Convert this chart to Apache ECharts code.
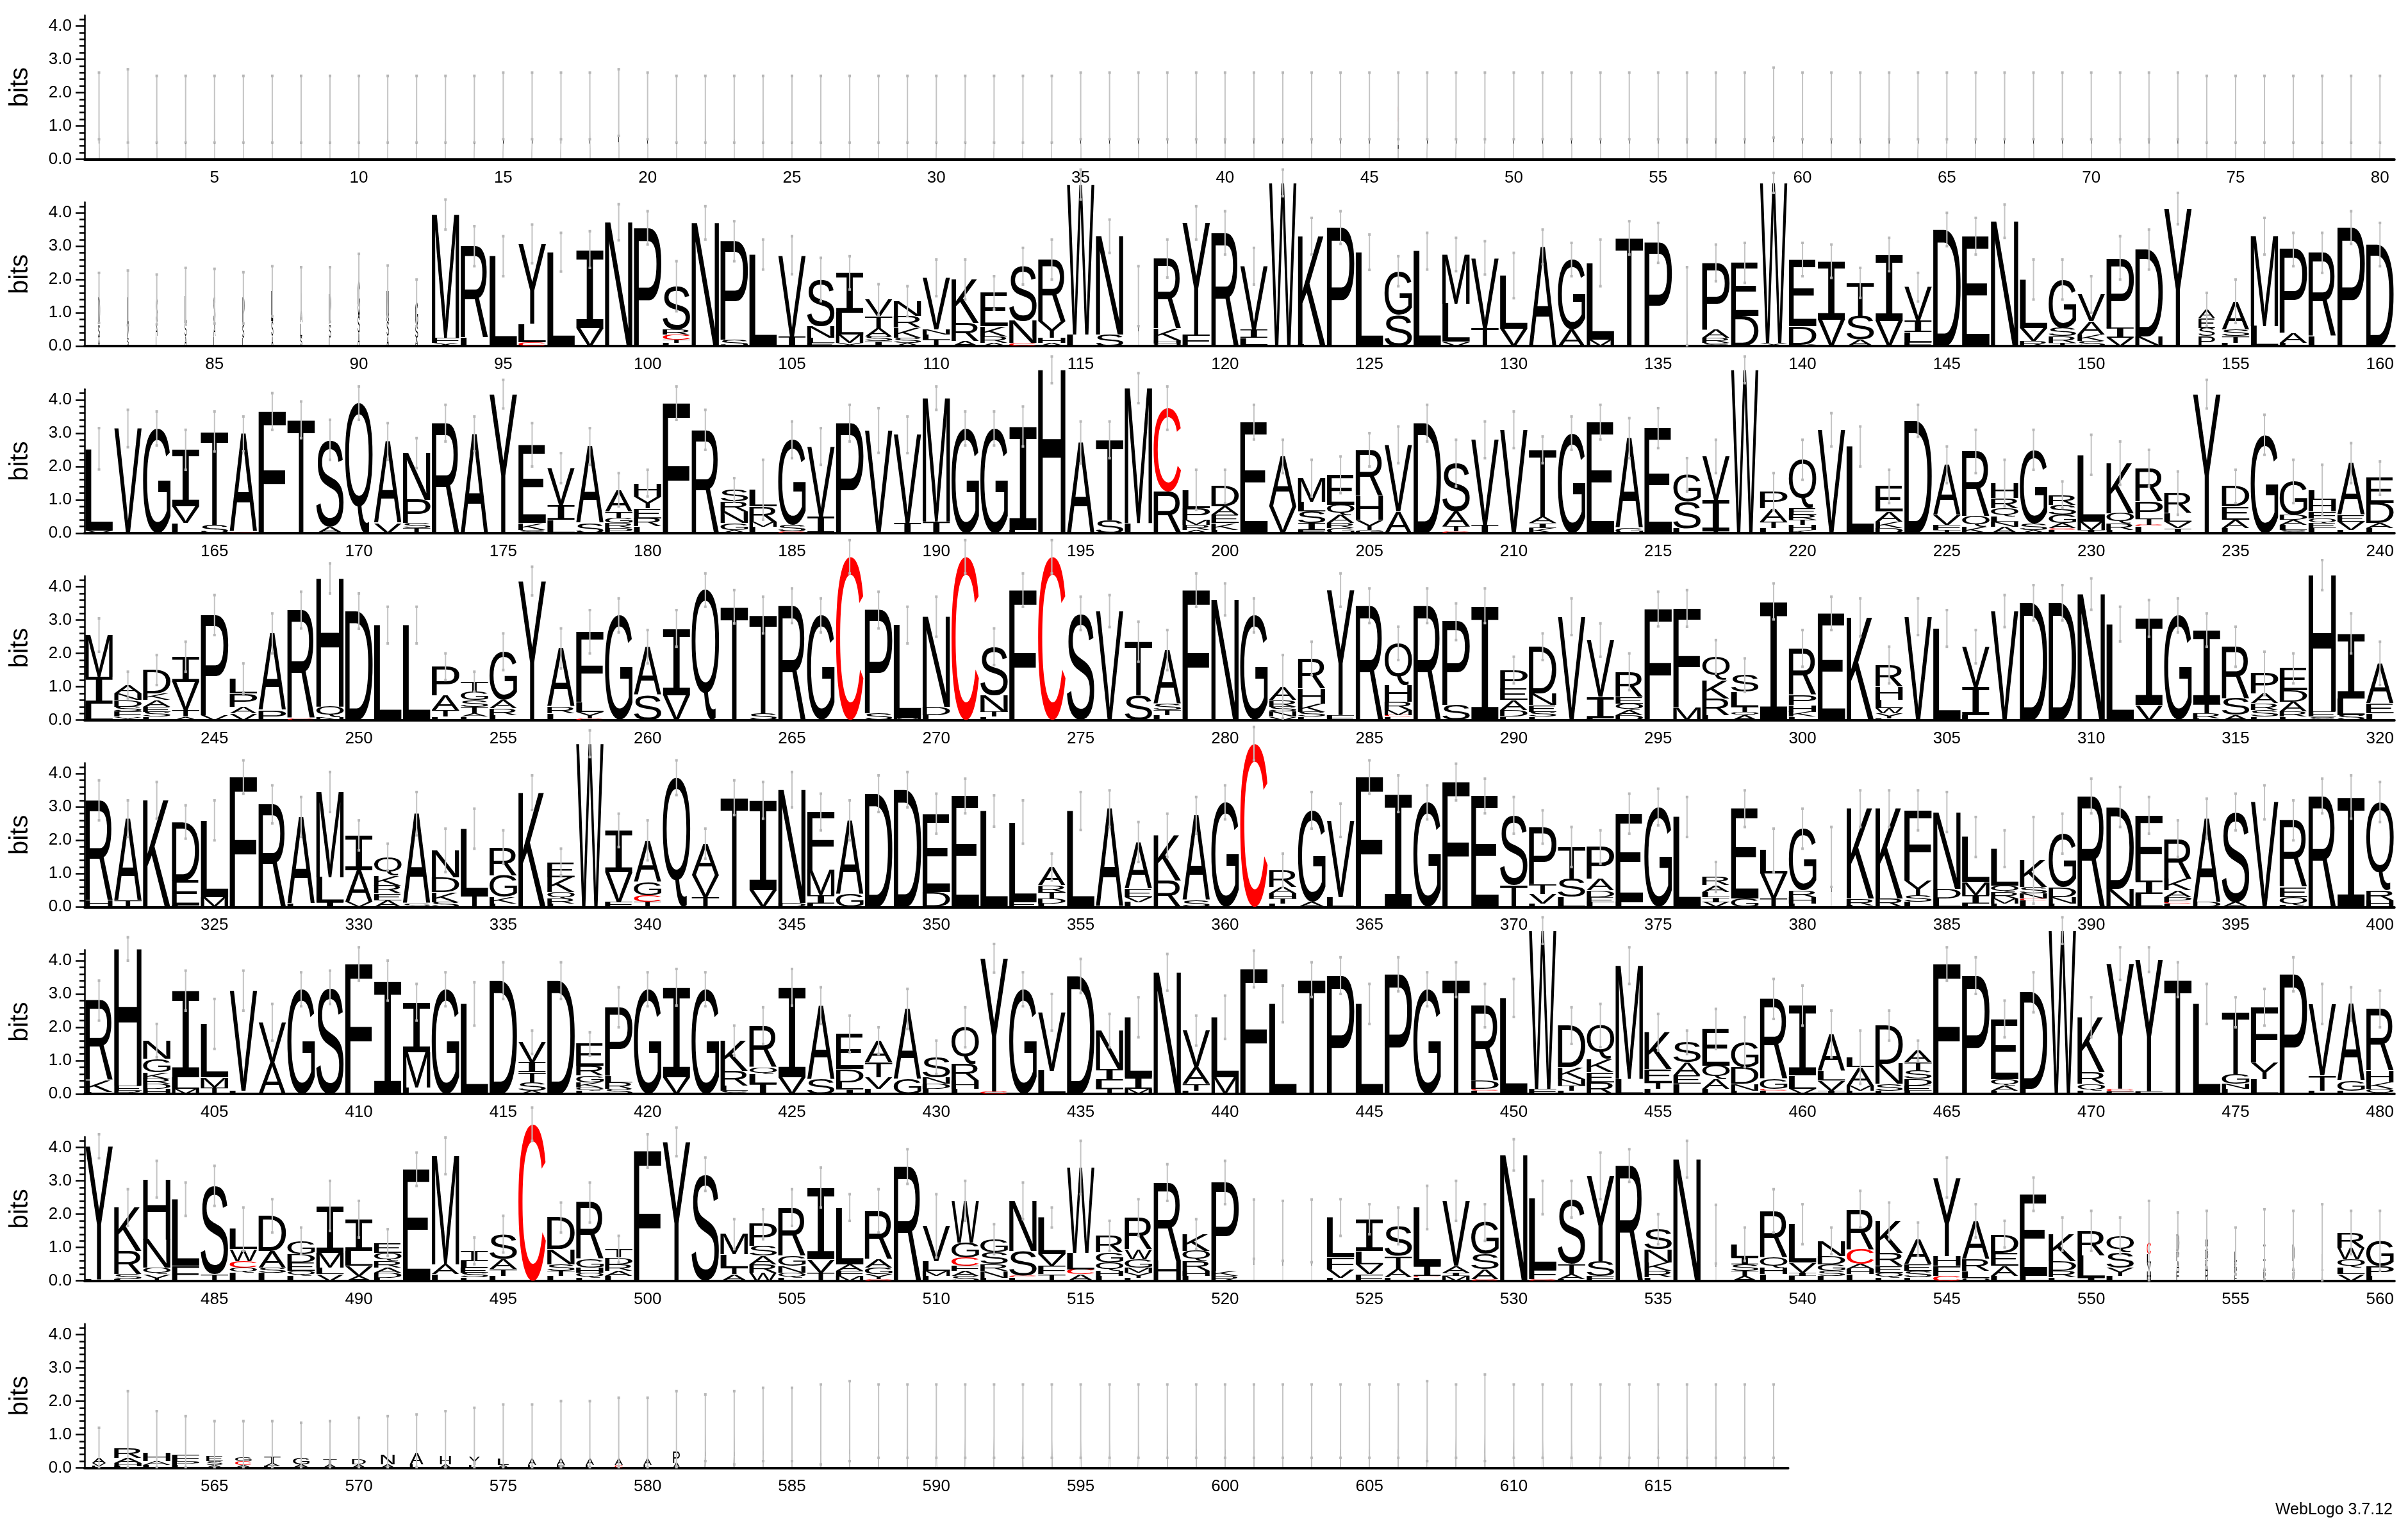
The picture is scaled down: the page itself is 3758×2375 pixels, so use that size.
<!DOCTYPE html>
<html><head><meta charset="utf-8">
<script src="https://cdn.jsdelivr.net/npm/echarts@6/dist/echarts.min.js"></script>
<style>html,body{margin:0;padding:0;background:#fff}#c{width:3758px;height:2375px}</style>
</head><body><div id="c"></div>
<script>
// Token format: letters top->bottom with heights in bits, "^" = error bar top (bits), "*" = stack width fraction
const rowStarts = [1, 81, 161, 241, 321, 401, 481, 561];
const yTickValues = [0, 1, 2, 3, 4];
const yTickLabels = ['0.0', '1.0', '2.0', '3.0', '4.0'];
const yMinorValues = [0.2,0.4,0.6,0.8,1.2,1.4,1.6,1.8,2.2,2.4,2.6,2.8,3.2,3.4,3.6,3.8,4.2];
const letterColors = { C: '#ff0000' };

const row1 = [
"A1.6*.03^2.6","A1.6*.03^2.7","A1.5*.03^2.5","A1.5*.03^2.5","A1.5*.03^2.5","A1.5*.03^2.5","A1.5*.03^2.5","A1.5*.03^2.5","A1.5*.03^2.5","A1.5*.03^2.5",
"A1.5*.03^2.5","A1.5*.03^2.5","A1.5*.03^2.5","A1.5*.03^2.5","A1.6*.03^2.6","A1.6*.03^2.6","A1.6*.03^2.6","A1.6*.03^2.6","A1.7*.03^2.7","A1.6*.03^2.6",
"A1.5*.03^2.5","A1.5*.03^2.5","A1.5*.03^2.5","A1.5*.03^2.5","A1.5*.03^2.5","A1.5*.03^2.5","A1.5*.03^2.5","A1.5*.03^2.5","A1.5*.03^2.5","A1.5*.03^2.5",
"A1.5*.03^2.5","A1.5*.03^2.5","A1.5*.03^2.5","A1.5*.03^2.5","A1.6*.03^2.6","A1.6*.03^2.6","A1.6*.03^2.6","A1.6*.03^2.6","A1.6*.03^2.6","A1.6*.03^2.6",
"A1.6*.03^2.6","A1.6*.03^2.6","A1.6*.03^2.6","A1.6*.03^2.6","A1.6*.03^2.6","C.5A1.1*.04^2.6","A1.6*.03^2.6","A1.6*.03^2.6","A1.6*.03^2.6","A1.6*.03^2.6",
"A1.6*.03^2.6","A1.6*.03^2.6","A1.6*.03^2.6","A1.6*.03^2.6","A1.6*.03^2.6","A1.6*.03^2.6","A1.6*.03^2.6","A1.6*.03^2.6","A1.7*.03^2.75","A1.6*.03^2.6",
"A1.6*.03^2.6","A1.6*.03^2.6","A1.6*.03^2.6","A1.6*.03^2.6","A1.6*.03^2.6","A1.6*.03^2.6","A1.6*.03^2.6","A1.6*.03^2.6","A1.6*.03^2.6","A1.6*.03^2.6",
"A1.6*.03^2.6","A1.6*.03^2.6","A1.6*.03^2.6","A1.5*.03^2.5","A1.5*.03^2.5","A1.5*.03^2.5","A1.5*.03^2.5","A1.5*.03^2.5","A1.5*.03^2.5","A1.5*.03^2.5"
];
const row2 = [
"D.8S.4A.25*.07^2.2","L.8V.4S.25*.07^2.27","S.7A.4L.3*.06^2.15","L.8S.4A.3*.07^2.35","S.8A.4L.3*.07^2.32","P.8S.4L.25*.07^2.22","L.9S.45A.3*.07^2.4","A.9L.4S.3*.07^2.37","P.9S.4L.25*.07^2.37","G1.1S.5A.4*.08^2.77",
"N.9S.45A.3*.08^2.42","G.7S.35A.25*.1^2.0","M3.7F.15X.1^4.4","R2.75L.25^3.6","L2.7^3.3","Y2.4L.55C.12^3.65","L2.82^3.4","I2.35V.55^3.45","N3.72^4.26","P3.55^4.05",
"S1.3R.15C.15T.1L.1^2.55","N3.7^4.2","P2.95S.2^3.75","L2.7V.05^3.2","V2.45I.28^3.3","S1.4N.35L.15E.1^2.65","I1.2L.65M.25Y.1^2.7","V.5T.35A.25S.15I.15^1.86","N.45R.35K.3S.15A.1^1.8","V1.55N.15L.15T.15I.05^2.6",
"K1.3R.55A.15^2.6","E1.0K.3R.2A.1^2.1","S1.65N.65C.1^2.95","R1.85Y.5H.15A.1^3.2","W4.5L.35^5.3","N2.95S.35^3.8","A1.5*.02^2.4","R2.1K.35H.1Q.08^3.2","Y3.35F.35^4.2","R3.4^4.05",
"V1.9I.25L.2A.05^2.95","W4.9^5.3","K3.25L.05^3.85","P3.56^4.05","L2.82^3.35","G1.3S.95^2.7","L2.85^3.4","M1.47L1.15V.13^3.25","V2.1T.55^3.15","L1.6V.52^2.8",
"A2.98^3.5","G2.1A.5^3.1","L2.3M.2^3.2","T3.25^3.75","P3.1^3.7","A1.2*.02^2.37","P2.0A.25R.15S.1^3.05","E1.6D.9^3.1","W4.8Y.1^5.2","E2.0D.55Y.05^3.1",
"I1.75V.8^3.05","T1.0S.7A.2^2.35","I2.0V.75^3.25","V1.0I.35L.3F.12^2.2","D3.5^4.0","E3.3^3.85","N3.75^4.25","L1.45V.4R.15^2.6","G1.45S.25R.2T.1^2.6","V.8A.4K.2S.15^2.1",
"P2.1I.3V.25^3.3","D2.6N.3^3.5","Y4.13^4.6","A.25E.3S.25P.3*.6^1.6","A.85S.2T.2L.1^2.0","M2.7L.6^3.85","P2.5A.3L.1^3.4","R2.5L.3^3.4","P3.56^4.05","D3.05^3.7"
];
const row3 = [
"L2.45V.08^3.15","V3.14^3.7","G3.14^3.65","I1.7V.5L.3^3.1","T2.8S.25^3.65","A2.95C.03^3.5","F3.65^4.2","T3.4^3.95","S2.6A.2^3.4","Q3.9^4.4",
"A2.45V.3^3.3","N1.4P.7S.15T.15^2.85","R3.3^3.85","A2.98^3.5","Y4.17^4.6","E2.35K.2S.1^3.3","V1.1I.45L.4^2.4","A2.3S.3^3.15","A.65T.2G.15R.15P.15^1.8","H.4Y.35E.3R.25L.2^1.9",
"F3.9^4.4","R3.1^3.7","S.35R.3N.35G.2A.1^1.65","L.5R.45M.15L.2^2.2","G2.55S.2C.05^3.35","V2.1I.5^3.15","P3.3^3.85","V3.08^3.75","V2.65I.3^3.5","M3.7I.35^4.4",
"G3.14^3.65","G3.14^3.65","I3.1L.1^3.8","H4.9^5.3","A2.72^3.35","T2.4S.4^3.35","M4.05L.3^4.8","C2.5R1.25^4.4","L.55P.35M.15R.15A.1^1.9","D.6A.25E.25K.2L.1^1.9",
"E3.33^3.85","A1.5V.8^2.8","M.7L.3S.35I.2F.1^2.2","E.9Q.3A.25R.15G.15^2.3","R1.4H.7Y.3G.1^3.0","V2.0A.65^3.2","D3.3^3.85","S1.45A.45T.15C.05^2.8","V2.55I.25^3.35","V3.1^3.65",
"T2.0A.2I.15K.15^2.9","G3.0^3.5","E3.33^3.85","A2.7G.15^3.45","E3.15^3.75","G.8S.8L.15^2.25","V1.3I.95T.05^2.8","W4.9^5.3","P.5A.4T.2L.15^1.8","Q1.45E.2R.15T.15H.15K.1^2.8",
"V3.1^3.6","L2.6^3.2","E.75A.3K.2D.15^1.9","D3.37^3.85","A1.5V.3F.15T.1^2.6","R1.95Q.3K.2^3.1","H.45R.3Q.25L.15N.15A.2^2.2","G2.2S.2A.1^3.1","R.3S.3G.25A.15C.05L.1^1.55","L2.0M.25I.1^2.95",
"K1.5Q.3R.2L.1^2.75","R1.0P.5T.2C.05L.2^2.5","R.6L.25V.2I.15^1.85","Y4.17^4.6","D.6E.4A.25L.15^1.9","G2.95^3.55","G1.0D.15A.15L.15S.1^2.2","L.3H.35F.2Q.15E.15L.15^2.05","A1.55E.2V.25L.1^2.7","E.75D.6A.15L.15^2.15"
];
const row4 = [
"M1.25I.8L.5^3.05","A.25N.2D.2S.15F.15Y.1^1.45","D.7K.2A.2E.15S.15L.1^1.95","I.75V.85T.2A.1^2.35","P3.0V.15^3.75","L.45P.4A.2V.2^1.7","A2.3P.3^3.2","R3.25C.05^3.85","H3.85Q.3N.1^4.7","D3.27^3.8",
"L2.85^3.4","L2.85^3.4","P.85A.45T.2L.1^2.0","T.3G.25S.2T.2A.1L.1^1.45","G1.45A.25R.2L.15^2.6","Y4.17^4.6","A1.75R.2L.2^2.75","F2.1L.3Y.2C.05^3.3","G3.14^3.65","A1.45S.75^2.7",
"I2.0V.75^3.3","Q3.9^4.4","T3.4^3.9","T2.95S.2^3.7","R3.43^3.95","G3.14^3.65","C4.9^5.4","P3.1S.2^3.85","L2.8M.05^3.4","N2.7D.25L.15^3.7",
"C4.9^5.4","S1.45N.5T.15L.1^2.75","F3.9^4.4","C4.9^5.4","S3.2^3.7","V3.27^3.75","T1.6S.75^2.95","A1.6S.2T.15L.15^2.7","F3.9^4.4","N3.62^4.1",
"G3.14^3.65","A.4R.2S.15N.15V.1^1.95","R.9H.45K.25S.15L.1^2.35","Y3.75F.15^4.4","R3.43^3.95","Q1.25H.5R.25M.15C.05L.1^2.8","R3.43^3.95","P2.5S.45^3.5","I3.43^3.95","P.55E.35A.3D.2L.1^1.9",
"D1.4N.35E.2S.15L.1^2.6","V3.1^3.65","V1.7I.65L.05^2.9","R.75E.2Q.2A.15D.15^2.0","F3.33^3.85","F2.95M.4^3.9","Q.7K.55R.5L.15^2.4","S.5L.45T.15Q.1A.15^1.85","I3.56^4.1","R1.4P.3H.2K.15L.1^2.7",
"E3.2^3.7","K3.08^3.65","R.65H.4L.25W.15Y.15L.05^2.2","V3.1^3.65","L2.75^3.3","V1.2I.85L.15^2.7","V3.27^3.75","D3.52^4.05","D3.52^4.05","N3.78^4.25",
"L2.88^3.4","I2.6V.45^3.6","G3.14^3.65","I2.2T.3R.15L.05^3.2","R1.55S.5A.15^2.8","P.6A.3R.2S.2L.1^2.05","E.65D.35A.3R.15L.1^2.0","H4.1E.15S.1^4.8","I1.95L.5S.15^3.2","A1.2E.3L.2^2.35"
];
const row5 = [
"R3.0H.2^3.8","A2.45T.2^3.2","K3.2^3.75","D1.75E.75L.05^3.05","L2.3M.3^3.2","F3.9^4.4","R3.08^3.65","A2.6L.1^3.3","M2.55L.75I.15^4.05","I1.05A.95V.15^2.6",
"Q.55K.3R.25E.2A.2^1.9","A2.7S.1^3.45","N.8D.45K.3S.15^2.35","L2.0T.35^2.95","R.85G.65K.2L.1^2.3","K3.43^3.95","E.45K.45Q.2R.15L.1^1.75","W4.9^5.3","I1.25V.9F.15^2.8","A1.25G.4C.2T.15^2.6",
"Q3.88^4.4","A.95V.65T.3^2.35","T3.28^3.8","I2.7V.5^3.75","N3.4D.12^4.05","F1.75M.75I.25L.1^3.4","A2.2G.4^3.2","D3.4^3.95","D3.52^4.05","E2.35D.45^3.4",
"E3.33^3.85","L2.88^3.35","L2.4E.15^3.2","A.55R.2T.2D.15L.1^1.6","L2.88^3.45","A2.95^3.5","A1.4E.25V.15L.15^2.55","K1.35R.8^2.8","A2.55S.2^3.3","G3.14^3.65",
"C4.9^5.4","R.5A.2H.15T.15L.1^1.6","G2.75A.15^3.45","V2.3L.3^3.1","F3.9^4.4","I3.4^3.95","G3.14^3.65","F3.75^4.3","E3.33^3.85","S2.1T.65^3.3",
"P1.7T.3V.3L.1^2.9","T.95S.55L.3^2.4","P.95A.35D.2E.15L.15^2.3","E2.65L.15^3.4","G3.0^3.55","L2.7^3.3","R.25A.2L.15I.15V.15^1.35","E2.7G.25^3.5","L.7V.75T.25^2.35","G1.85R.2H.2L.1^2.95",
"A1.5*.02^2.4","K2.7R.2L.05^3.5","K2.7R.25^3.5","F2.1Y.45S.2L.15^3.5","N2.3D.3L.25^3.45","L1.35M.4I.25L.1^2.7","L1.1Q.2R.2M.15L.1^2.3","K.8S.2N.15C.05L.2^2.7","G1.6D.3N.2L.1^2.8","R3.33^3.85",
"D2.45N.55^3.6","F1.95I.4L.4^3.3","R1.2K.35A.2P.15C.05L.1^2.6","A2.5D.15^3.25","S2.7A.15^3.4","V3.14^3.65","R2.0E.3Q.25L.05^3.2","R3.33^3.85","I3.3^3.95","Q2.65R.3H.2^3.75"
];
const row6 = [
"R2.4K.35L.05^3.4","H4.1E.15R.1^4.7","N.55G.4K.2R.15D.15H.15^2.1","I2.6L.35M.15^3.7","L1.6M.3T.2^2.85","V3.0L.1^3.7","V1.2A.95^2.7","G3.14^3.65","S3.2^3.7","F3.9^4.4",
"I3.4^4.0","I1.5M1.05L.2^3.3","G3.14^3.65","L2.7^3.35","D3.4^3.95","V.6I.3T.3S.25A.1^1.9","D3.4^3.95","E.65R.3G.2K.15Q.1L.1^1.85","P2.05L.2R.2S.15^3.2","G3.14^3.65",
"I2.7V.5^3.75","G3.14^3.65","K.9R.45L.15S.1^2.05","R1.25Q.2L.3I.3^2.6","I2.7V.5^3.75","A2.2S.45^3.2","E1.05D.4L.2I.15^2.35","A.65T.45V.35L.15^2.0","A2.1G.45^3.15","S.6N.2D.15L.15^1.6",
"Q1.1R.5H.25L.15^2.6","Y4.0C.07^4.5","G3.14^3.65","V1.75L.7^3.0","D3.54^4.05","N1.15I.35L.25T.15^2.4","L1.8I.35M.15^2.9","N3.65^4.2","V1.1A.5T.2L.1^2.35","L1.8M.5^2.95",
"F3.75^4.3","L2.7^3.25","T3.43^3.95","P3.55^4.1","L2.7^3.3","P3.59^4.1","G3.14^3.65","T3.43^3.95","R2.25D.25C.05L.1^3.3","L2.88^3.45",
"W4.75F.15^5.3","D1.25K.35N.2T.15L.1^2.6","Q1.0K.4E.3R.35^2.7","M3.4L.45^4.4","K1.1E.4T.2L.15^2.4","S.6A.4E.25L.3^1.9","E1.1Q.4A.3L.15^2.55","G.75D.5N.2L.1^2.3","R2.4G.3C.05L.1^3.45","I2.1L.4V.15^3.25",
"A1.1L.3V.3I.1^2.5","L.3A.55M.15L.1^1.9","D1.15N.6S.2L.1^2.5","A.35T.25S.25D.2E.15L.1^1.6","F3.9^4.4","P3.55^4.1","E1.8Q.2A.15L.1^2.8","D2.9L.15^3.65","W4.9^5.3","K1.65R.35Q.2L.1^2.9",
"Y3.75C.08F.08^4.4","Y3.95F.08^4.4","T3.43^3.95","L2.7^3.3","T1.85G.3N.15L.15^2.9","F1.65Y.5L.45^3.15","P3.59^4.1","V2.15T.45L.1^3.3","A2.3G.3L.1^3.2","R1.85H.35K.2Q.15^3.1"
];
const row7 = [
"Y4.0L.04^4.4","K1.3R.7S.15L.05^2.75","H1.8N.85Q.2Y.2^3.6","L2.0F.45^2.95","S2.65T.2^3.45","L.6W.35C.2Q.15L.25^2.2","D1.05A.5S.15L.25^2.45","G.4D.25E.25Q.15L.15^1.6","I1.4M.45L.2V.2^3.0","I.95L.45V.3A.15^2.4",
"E.3Q.25R.2A.15D.15L.1^1.55","E3.35^3.85","M3.25A.3L.2^4.3","I.3L.2E.15S.15L.1^1.3","S.75A.3T.2L.15^1.95","C4.7^5.2","D.95N.45S.2T.15L.15^2.35","R1.7G.25H.15Q.15L.1^2.95","T.25D.2R.2A.15L.15^1.35","F3.9^4.4",
"Y4.17^4.6","S3.2^3.7","M.6L.4T.2A.2^1.85","P.65S.3A.25R.25W.25^2.15","R1.45G.3N.2Q.15L.1^2.75","I2.15V.4T.25^3.4","L1.7A.2F.15M.15^2.6","R1.45A.25G.2Y.15C.05^2.75","R3.43^3.95","V1.05L.3M.15L.15^2.6",
"W1.25G.45C.25F.15A.15S.15^3.0","G.4S.35R.2N.2L.1^1.7","N1.5S.75C.05L.1^2.95","L1.1V.35F.25T.2^2.2","W2.55L.5C.15A.2^4.2","R.5G.3Q.25H.15L.15^1.8","R.95W.3G.25M.15Y.15L.1^2.45","R2.35H.6^3.5","K.5Q.3R.3H.15L.15^1.85","P2.65K.15R.15^3.6",
"A1.55*.02^2.44","A1.5*.02^2.4","A1.5*.02^2.44","L1.2F.35V.25L.1^2.45","I.95L.4V.3F.2^2.3","S.9T.4A.25L.1^2.2","L1.75I.3C.05L.1^2.85","V1.95A.2I.1M.15^3.0","G.95S.45A.3C.05^2.3","N3.78^4.25",
"L2.15F.3C.05^3.0","S1.95T.3A.15L.05^3.0","Y2.55S.45F.15^3.85","R3.46^3.95","S.6N.4K.25R.2L.1^2.0","N3.65^4.2","A1.4*.02^2.28","L.4I.2S.2T.15A.15^1.6","R1.4Q.3H.2L.2^2.75","L1.15V.3I.1L.15^2.3",
"N.45D.25G.2S.15L.15^1.6","R1.2C.45A.15H.15L.2^2.7","K.95R.4E.2Q.15L.1^2.35","A.75E.2S.2L.1^1.75","Y2.35H.3F.3C.15^3.7","A1.15R.35L.2Q.1^2.3","D.55E.4A.3L.15^1.8","E2.45L.15^3.1","K.8D.3R.2L.1^1.9","R.75L.65I.1^2.1",
"Q.5S.45Y.25L.15^1.9","C.35L.25V.25H.3*.15^2.4","D.5P.3A.3E.3*.1^2.05","Q.3D.3K.3R.35*.1^2.1","L.3E.2P.2F.2*.08^1.6","I.5A.3P.3*.07^2.15","D.5A.3Q.3*.07^2.1","L.5A.3*.05^2.3","R.45W.35Q.25L.2V.2^2.1","G.75P.3L.15^2.1"
];
const row8 = [
"A.15V.1L.05*.5^1.2","R.3A.15H.1L.05^2.3","H.25A.12L.08^1.7","F.2P.12L.08^1.55","E.15S.12A.08*.6^1.4","G.12C.12A.08*.6^1.4","T.2A.1L.05*.6^1.4","G.2A.1*.6^1.35","T.15A.1*.5^1.4","D.15A.1*.5^1.5",
"N.3A.1*.5^1.55","A.35L.1*.5^1.6","H.25A.1*.4^1.7","Y.25L.08*.4^1.8","L.2A.08*.4^1.9","A.2L.08*.3^1.9","A.2E.08*.3^2.0","A.2L.08*.3^2.0","A.2C.08*.3^2.1","A.2L.08*.3^2.1",
"P.35A.15*.25^2.3","A1.2*.05^2.2","A1.2*.05^2.3","A1.3*.04^2.4","A1.3*.04^2.4","A1.3*.04^2.5","A1.4*.04^2.6","A1.4*.04^2.5","A1.4*.04^2.5","A1.4*.04^2.5",
"A1.4*.04^2.5","A1.4*.04^2.5","A1.4*.04^2.5","A1.4*.04^2.5","A1.4*.04^2.5","A1.4*.04^2.5","A1.4*.04^2.5","A1.4*.04^2.5","A1.4*.04^2.5","A1.4*.04^2.5",
"A1.4*.04^2.5","A1.4*.04^2.5","A1.4*.04^2.5","A1.4*.04^2.5","A1.4*.04^2.5","A1.4*.04^2.5","A1.4*.04^2.6","A1.4*.04^2.5","A1.5*.04^2.8","A1.4*.04^2.5",
"A1.4*.04^2.5","A1.4*.04^2.5","A1.4*.04^2.5","A1.4*.04^2.5","A1.4*.04^2.5","A1.4*.04^2.5","A1.4*.04^2.5","A1.4*.04^2.5","A1.4*.04^2.5"
];
const rows = [row1, row2, row3, row4, row5, row6, row7, row8];

// ---- layout constants (pixels) ----
const plotLeft = 132, colW = 45.06, bitPx = 52, firstZero = 248.5, rowPitch = 291.7;
const yMax = Math.log2(20);

function parseTok(tok) {
  let top = null, w = 1, m;
  m = tok.match(/\^([\d.]+)/); if (m) { top = +m[1]; tok = tok.replace(m[0], ''); }
  m = tok.match(/\*([\d.]+)/); if (m) { w = +m[1]; tok = tok.replace(m[0], ''); }
  const letters = []; const re = /([A-Z])([\d.]+)/g; let r;
  while ((r = re.exec(tok))) letters.push([r[1], +r[2]]);
  const total = letters.reduce((s, l) => s + l[1], 0);
  return { letters, total, top, w };
}

const FS = 200;
function fontFor(ch) {
  return ch === 'I' ? FS + 'px "Liberation Mono", "DejaVu Sans Mono", monospace'
                    : FS + 'px "Liberation Sans", Arial, sans-serif';
}
const mctx = document.createElement('canvas').getContext('2d');
const metricCache = {};
function glyph(ch) {
  if (!metricCache[ch]) {
    mctx.font = fontFor(ch); mctx.textAlign = 'left'; mctx.textBaseline = 'middle';
    const m = mctx.measureText(ch);
    metricCache[ch] = { l: m.actualBoundingBoxLeft, r: m.actualBoundingBoxRight, a: m.actualBoundingBoxAscent, d: m.actualBoundingBoxDescent };
  }
  return metricCache[ch];
}

function makeRender(k) {
  const parsed = rows[k].map(parseTok);
  return function (params, api) {
    const i = api.value(0);
    const p = parsed[i];
    const base = api.coord([i, 0]);
    const band = api.size([1, 0])[0];
    const perBit = api.size([0, 1])[1];
    const children = [];
    const w = band * 0.95 * p.w;
    let y = base[1];
    for (let j = p.letters.length - 1; j >= 0; j--) {
      const ch = p.letters[j][0], hp = p.letters[j][1] * perBit;
      if (hp > 0.3 && w > 0.3) {
        const g = glyph(ch);
        const sx = w / (g.l + g.r), sy = hp / (g.a + g.d);
        children.push({
          type: 'text', silent: true,
          x: base[0] - w / 2 + sx * g.l, y: (y - hp) + sy * g.a, scaleX: sx, scaleY: sy,
          style: { text: ch, font: fontFor(ch), fill: letterColors[ch] || '#000', align: 'left', verticalAlign: 'middle', x: 0, y: 0 }
        });
      }
      y -= hp;
    }
    if (p.top != null) {
      const e = p.top - p.total;
      const low = Math.max(0.02, p.total - e);
      const yT = base[1] - p.top * perBit, yB = base[1] - low * perBit;
      children.push({ type: 'line', silent: true, shape: { x1: base[0], y1: yT, x2: base[0], y2: yB }, style: { stroke: '#c4c4c4', lineWidth: 2 } });
      children.push({ type: 'rect', silent: true, shape: { x: base[0] - 2, y: yT - 2, width: 4, height: 4 }, style: { fill: '#b8b8b8' } });
      children.push({ type: 'rect', silent: true, shape: { x: base[0] - 2, y: yB - 2, width: 4, height: 4 }, style: { fill: '#b8b8b8' } });
    }
    return { type: 'group', children };
  };
}

const grids = [], xAxes = [], yAxes = [], series = [];
rows.forEach((r, k) => {
  const zero = firstZero + k * rowPitch;
  grids.push({ left: plotLeft, top: zero - yMax * bitPx, width: colW * r.length, height: yMax * bitPx });
  const cats = r.map((_, i) => String(rowStarts[k] + i));
  xAxes.push({
    type: 'category', gridIndex: k, data: cats, boundaryGap: true,
    axisLine: { lineStyle: { color: '#000', width: 4 } },
    axisTick: { alignWithLabel: true, interval: 0, length: 6, lineStyle: { color: '#000', width: 2 } },
    axisLabel: { interval: (idx, val) => (+val) % 5 === 0, fontSize: 26, fontFamily: 'Liberation Sans', color: '#000', margin: 16 },
    splitLine: { show: false }
  });
  yAxes.push({
    type: 'value', gridIndex: k, min: 0, max: yMax, position: 'left',
    name: 'bits', nameLocation: 'middle', nameGap: 80,
    nameTextStyle: { fontSize: 40, fontFamily: 'Liberation Sans', color: '#000' },
    axisLine: { show: true, lineStyle: { color: '#000', width: 2.5 } },
    axisTick: { show: true, customValues: yTickValues, length: 14, lineStyle: { color: '#000', width: 2.5 } },
    axisLabel: { customValues: yTickValues, formatter: v => yTickLabels[Math.round(v)], fontSize: 26, fontFamily: 'Liberation Sans', color: '#000', margin: 20 },
    splitLine: { show: false }
  });
  yAxes.push({
    type: 'value', gridIndex: k, min: 0, max: yMax, position: 'left',
    axisLine: { show: false },
    axisTick: { show: true, customValues: yMinorValues, length: 8, lineStyle: { color: '#000', width: 2.5 } },
    axisLabel: { show: false }, splitLine: { show: false }
  });
  series.push({
    type: 'custom', xAxisIndex: k, yAxisIndex: 2 * k, clip: false, silent: true,
    data: r.map((_, i) => [i, 0]), encode: { x: 0, y: 1 },
    renderItem: makeRender(k)
  });
});

const chart = echarts.init(document.getElementById('c'), null, { renderer: 'canvas', width: 3758, height: 2375 });
chart.setOption({
  animation: false, backgroundColor: '#fff',
  grid: grids, xAxis: xAxes, yAxis: yAxes, series,
  graphic: [{ type: 'text', right: 24, bottom: 6, style: { text: 'WebLogo 3.7.12', font: '25px "Liberation Sans"', fill: '#000' } }]
});
</script></body></html>
